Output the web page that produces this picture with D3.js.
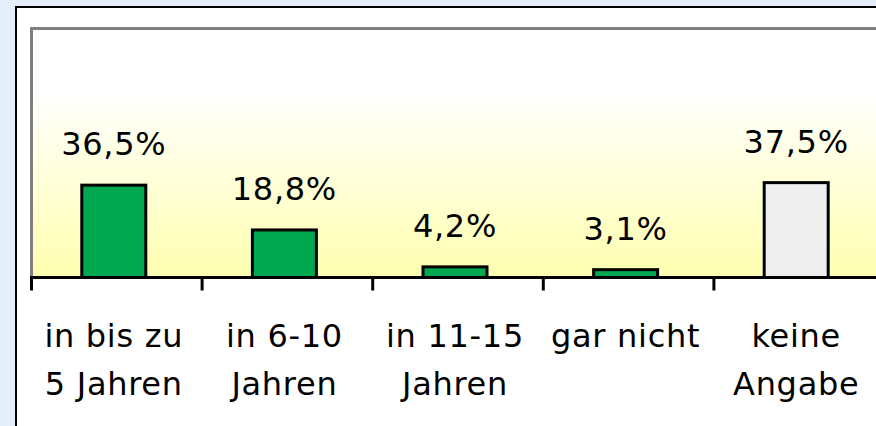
<!DOCTYPE html>
<html>
<head>
<meta charset="utf-8">
<script src="https://cdn.jsdelivr.net/npm/d3@7/dist/d3.min.js"></script>
<style>
  html, body { margin: 0; padding: 0; background: #e4eef8; overflow: hidden; }
  svg { display: block; }
  text { font-family: "DejaVu Sans", Verdana, sans-serif; fill: #000; }
</style>
</head>
<body>
<svg id="chart" width="876" height="426"></svg>
<script>
const categories = ["in bis zu\n5 Jahren", "in 6-10\nJahren", "in 11-15\nJahren", "gar nicht", "keine\nAngabe"];
const values = [36.5, 18.8, 4.2, 3.1, 37.5];
const valueLabels = ["36,5%", "18,8%", "4,2%", "3,1%", "37,5%"];
const barColors = ["#00a850", "#00a850", "#00a850", "#00a850", "#eeeeee"];

const W = 876, H = 426;
const svg = d3.select("#chart");

// outer white panel with black frame
svg.append("rect").attr("x", 16).attr("y", 7).attr("width", W + 20).attr("height", H + 20)
  .attr("fill", "#ffffff").attr("stroke", "#000").attr("stroke-width", 2);

// plot area gradient
const defs = svg.append("defs");
const grad = defs.append("linearGradient").attr("id", "bg").attr("x1", 0).attr("y1", 0).attr("x2", 0).attr("y2", 1);
grad.append("stop").attr("offset", "0%").attr("stop-color", "#ffffff");
grad.append("stop").attr("offset", "25%").attr("stop-color", "#ffffff");
grad.append("stop").attr("offset", "100%").attr("stop-color", "#ffffb0");

const axisY = 277.5;
const x0 = 31.5, step = 170.6;
const x = d3.scaleBand().domain(categories).range([x0, x0 + step * categories.length]).padding(0);
const y = d3.scaleLinear().domain([0, 100]).range([axisY, axisY - 253]);
const barShift = -3;

svg.append("rect").attr("x", 31.5).attr("y", 28.5).attr("width", W).attr("height", axisY - 28.5)
  .attr("fill", "url(#bg)").attr("stroke", "#808080").attr("stroke-width", 3);

const barW = 64;
const cx = i => x(categories[i]) + x.bandwidth() / 2 + barShift;
svg.selectAll("rect.bar").data(values).join("rect").attr("class", "bar")
  .attr("x", (d, i) => cx(i) - barW / 2)
  .attr("y", d => y(d))
  .attr("width", barW)
  .attr("height", d => axisY - y(d))
  .attr("fill", (d, i) => barColors[i])
  .attr("stroke", "#000").attr("stroke-width", 3);

// value labels
svg.selectAll("text.val").data(values).join("text").attr("class", "val")
  .attr("x", (d, i) => cx(i))
  .attr("y", d => y(d) - 30)
  .attr("text-anchor", "middle")
  .attr("font-size", 32).attr("letter-spacing", 0.7)
  .text((d, i) => valueLabels[i]);

// axis line and ticks
svg.append("line").attr("x1", x0 - 1.5).attr("x2", W + 10).attr("y1", axisY).attr("y2", axisY)
  .attr("stroke", "#000").attr("stroke-width", 3);
const tickPos = categories.map(c => x(c)).concat([x.range()[1]]);
svg.selectAll("line.tick").data(tickPos).join("line").attr("class", "tick")
  .attr("x1", d => d).attr("x2", d => d).attr("y1", axisY).attr("y2", axisY + 13)
  .attr("stroke", "#000").attr("stroke-width", 3);

// category labels
const cat = svg.selectAll("text.cat").data(categories).join("text").attr("class", "cat")
  .attr("text-anchor", "middle").attr("font-size", 32).attr("letter-spacing", 0.7);
cat.each(function(c, i) {
  const lines = c.split("\n");
  const t = d3.select(this);
  lines.forEach((ln, j) => {
    t.append("tspan").attr("x", cx(i)).attr("y", 347 + j * 48).text(ln);
  });
});
</script>
</body>
</html>
